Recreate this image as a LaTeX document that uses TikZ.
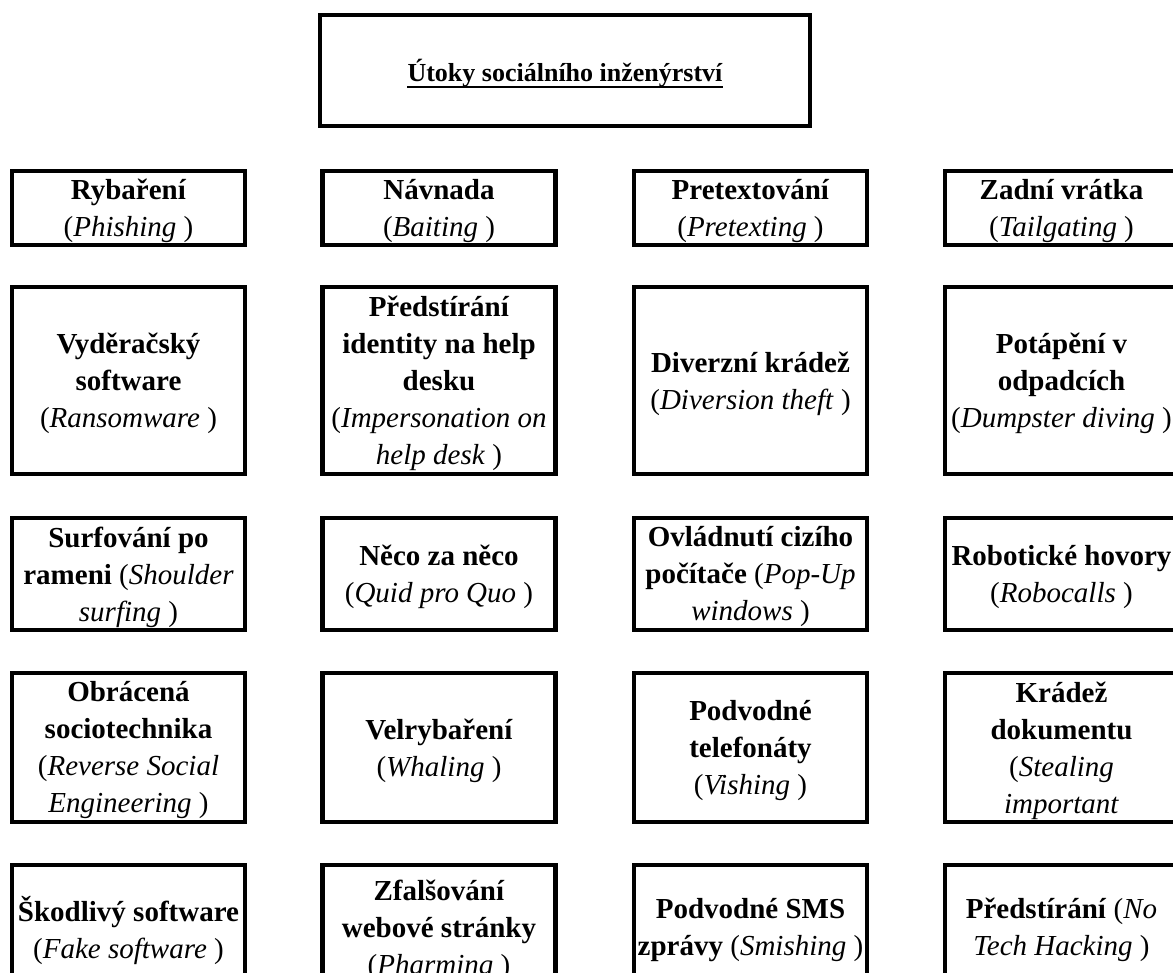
\documentclass[tikz,border=0pt]{standalone}
\usepackage{fontspec}
\setmainfont{Liberation Serif}
% Czech term in bold, English term in italics between upright parentheses
\newcommand\czb[1]{\textbf{#1}}
\newcommand\engl[1]{(\textit{#1} )}
\begin{document}
\begin{tikzpicture}[x=1pt,y=-1pt,
  cell/.style={draw, line width=4.5pt, minimum width=233pt, minimum height=#1, inner sep=0pt},
  celltext/.style={align=center, inner sep=0pt, font=\fontsize{29}{37}\selectfont},
  headbox/.style={draw, line width=4.5pt, minimum width=490pt, minimum height=111pt, inner sep=0pt}]
\useasboundingbox (0,0) rectangle (1173,973);
\clip (0,0) rectangle (1173,973);

% heading
\node[headbox] (head) at (565,70.5) {};
\node[anchor=base, inner sep=0pt, font=\fontsize{26}{30}\selectfont\bfseries] (headtext) at (565,82) {Útoky sociálního inženýrství};
\draw[line width=2pt] ([yshift=-5pt]headtext.base west) -- ([yshift=-5pt]headtext.base east);

% row 1
\node[cell=74pt] (b11) at (128.5,208) {};
\node[cell=74pt] (b12) at (439,208) {};
\node[cell=74pt] (b13) at (750.5,208) {};
\node[cell=74pt] (b14) at (1061.5,208) {};
\node[celltext] (t11) at ([yshift=-3pt]b11.center) {\czb{Rybaření}\\\engl{Phishing}};
\node[celltext] (t12) at ([yshift=-3pt]b12.center) {\czb{Návnada}\\\engl{Baiting}};
\node[celltext] (t13) at ([yshift=-3pt]b13.center) {\czb{Pretextování}\\\engl{Pretexting}};
\node[celltext] (t14) at ([yshift=-3pt]b14.center) {\czb{Zadní vrátka}\\\engl{Tailgating}};

% row 2
\node[cell=187pt] (b21) at (128.5,380.5) {};
\node[cell=187pt] (b22) at (439,380.5) {};
\node[cell=187pt] (b23) at (750.5,380.5) {};
\node[cell=187pt] (b24) at (1061.5,380.5) {};
\node[celltext] (t21) at ([yshift=-3pt]b21.center) {\czb{Vyděračský}\\\czb{software}\\\engl{Ransomware}};
\node[celltext] (t22) at ([yshift=-3pt]b22.center) {\czb{Předstírání}\\\czb{identity na help}\\\czb{desku}\\(\textit{Impersonation on}\\\textit{help desk} )};
\node[celltext] (t23) at ([yshift=-3pt]b23.center) {\czb{Diverzní krádež}\\\engl{Diversion theft}};
\node[celltext] (t24) at ([yshift=-3pt]b24.center) {\czb{Potápění v}\\\czb{odpadcích}\\\engl{Dumpster diving}};

% row 3
\node[cell=112pt] (b31) at (128.5,574) {};
\node[cell=112pt] (b32) at (439,574) {};
\node[cell=112pt] (b33) at (750.5,574) {};
\node[cell=112pt] (b34) at (1061.5,574) {};
\node[celltext] (t31) at ([yshift=-3pt]b31.center) {\czb{Surfování po}\\\czb{rameni} (\textit{Shoulder}\\\textit{surfing} )};
\node[celltext] (t32) at ([yshift=-3pt]b32.center) {\czb{Něco za něco}\\\engl{Quid pro Quo}};
\node[celltext] (t33) at ([yshift=-3pt]b33.center) {\czb{Ovládnutí cizího}\\\czb{počítače} (\textit{Pop-Up}\\\textit{windows} )};
\node[celltext] (t34) at ([yshift=-3pt]b34.center) {\czb{Robotické hovory}\\\engl{Robocalls}};

% row 4
\node[cell=149pt] (b41) at (128.5,747.5) {};
\node[cell=149pt] (b42) at (439,747.5) {};
\node[cell=149pt] (b43) at (750.5,747.5) {};
\node[cell=149pt] (b44) at (1061.5,747.5) {};
\node[celltext] (t41) at ([yshift=-3pt]b41.center) {\czb{Obrácená}\\\czb{sociotechnika}\\(\textit{Reverse Social}\\\textit{Engineering} )};
\node[celltext] (t42) at ([yshift=-3pt]b42.center) {\czb{Velrybaření}\\\engl{Whaling}};
\node[celltext] (t43) at ([yshift=-3pt]b43.center) {\czb{Podvodné}\\\czb{telefonáty}\\\engl{Vishing}};
\node[celltext] (t44) at ([yshift=-3pt]b44.center) {\czb{Krádež}\\\czb{dokumentu}\\(\textit{Stealing}\\\textit{important}};

% row 5
\node[cell=124pt] (b51) at (128.5,927) {};
\node[cell=124pt] (b52) at (439,927) {};
\node[cell=124pt] (b53) at (750.5,927) {};
\node[cell=124pt] (b54) at (1061.5,927) {};
\node[celltext] (t51) at ([yshift=-3pt]b51.center) {\czb{Škodlivý software}\\\engl{Fake software}};
\node[celltext] (t52) at ([yshift=-3pt]b52.center) {\czb{Zfalšování}\\\czb{webové stránky}\\\engl{Pharming}};
\node[celltext] (t53) at ([yshift=-3pt]b53.center) {\czb{Podvodné SMS}\\\czb{zprávy} \engl{Smishing}};
\node[celltext] (t54) at ([yshift=-3pt]b54.center) {\czb{Předstírání} (\textit{No}\\\textit{Tech Hacking} )};
\end{tikzpicture}
\end{document}
